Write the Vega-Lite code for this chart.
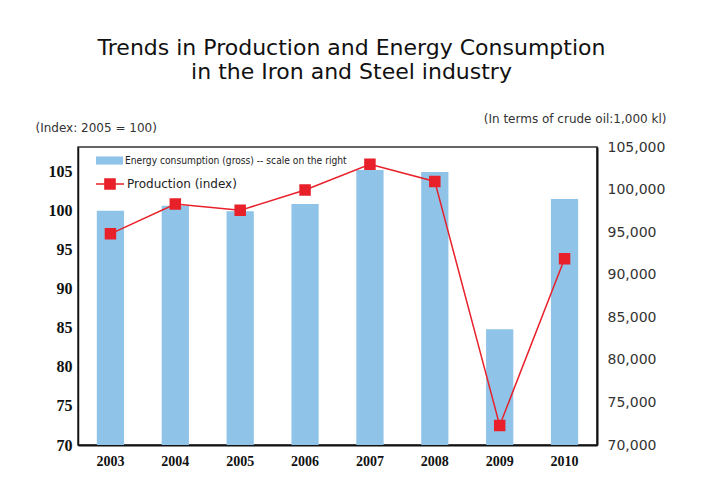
{
  "$schema": "https://vega.github.io/schema/vega-lite/v6.json",
  "autosize": "none",
  "width": 519,
  "height": 298,
  "padding": {"left": 78, "top": 147, "right": 106, "bottom": 48},
  "background": "white",
  "title": {
    "text": ["Trends in Production and Energy Consumption", "in the Iron and Steel industry"],
    "font": "DejaVu Sans",
    "fontSize": 22,
    "fontWeight": "normal",
    "color": "#111111",
    "lineHeight": 24,
    "anchor": "middle",
    "dx": 14,
    "offset": 28
  },
  "config": {
    "view": {"stroke": "#333333", "strokeWidth": 1.5},
    "axis": {"grid": false}
  },
  "data": {
    "values": [
      {"year": "2003", "energy": 97500, "production": 97.0},
      {"year": "2004", "energy": 98100, "production": 100.8},
      {"year": "2005", "energy": 97450, "production": 100.0},
      {"year": "2006", "energy": 98300, "production": 102.6},
      {"year": "2007", "energy": 102300, "production": 105.9},
      {"year": "2008", "energy": 102050, "production": 103.7},
      {"year": "2009", "energy": 83600, "production": 72.5},
      {"year": "2010", "energy": 98900, "production": 93.8}
    ]
  },
  "encoding": {
    "x": {
      "field": "year",
      "type": "ordinal",
      "scale": {"paddingInner": 0.58, "paddingOuter": 0.29},
      "axis": {
        "title": null,
        "labelAngle": 0,
        "labelFont": "Liberation Serif",
        "labelFontWeight": "bold",
        "labelFontSize": 14,
        "labelColor": "#111111",
        "ticks": false,
        "labelPadding": 9,
        "domainColor": "#111111",
        "domainWidth": 2
      }
    }
  },
  "layer": [
    {
      "mark": {"type": "bar", "color": "#8fc3e8"},
      "encoding": {
        "y": {
          "field": "energy",
          "type": "quantitative",
          "scale": {"domain": [70000, 105000], "zero": false, "nice": false},
          "axis": {
            "orient": "right",
            "title": "(In terms of crude oil:1,000 kl)",
            "titleAngle": 0,
            "titleAlign": "right",
            "titleBaseline": "middle",
            "titleX": 69,
            "titleY": -29,
            "titleFont": "DejaVu Sans",
            "titleFontSize": 12,
            "titleFontWeight": "normal",
            "titleColor": "#333333",
            "values": [70000, 75000, 80000, 85000, 90000, 95000, 100000, 105000],
            "format": ",d",
            "labelFont": "DejaVu Sans",
            "labelFontSize": 14,
            "labelColor": "#333333",
            "labelPadding": 10,
            "tickSize": 0,
            "domainColor": "#111111",
            "domainWidth": 2
          }
        },
        "y2": {"datum": 70000},
        "fill": {
          "datum": "Energy consumption (gross) -- scale on the right",
          "scale": {"range": ["#8fc3e8"]},
          "legend": {
            "title": null,
            "orient": "none",
            "legendX": 18,
            "legendY": 0,
            "padding": 0,
            "symbolType": "M-1,-0.3H1V0.3H-1Z",
            "symbolSize": 729,
            "symbolStrokeWidth": 0,
            "labelFont": "DejaVu Sans Condensed",
            "labelFontSize": 10.2,
            "labelColor": "#222222",
            "labelOffset": 2,
            "labelLimit": 0
          }
        }
      }
    },
    {
      "mark": {
        "type": "line",
        "color": "#e8202a",
        "strokeWidth": 1.5,
        "point": {"shape": "square", "size": 90, "filled": true, "fill": "#e8202a", "opacity": 1}
      },
      "encoding": {
        "y": {
          "field": "production",
          "type": "quantitative",
          "scale": {"domain": [70, 108.1], "zero": false, "nice": false},
          "axis": {
            "orient": "left",
            "title": "(Index: 2005 = 100)",
            "titleAngle": 0,
            "titleAlign": "left",
            "titleBaseline": "middle",
            "titleX": -43,
            "titleY": -20,
            "titleFont": "DejaVu Sans",
            "titleFontSize": 12,
            "titleFontWeight": "normal",
            "titleColor": "#333333",
            "values": [70, 75, 80, 85, 90, 95, 100, 105],
            "labelFont": "Liberation Serif",
            "labelFontWeight": "bold",
            "labelFontSize": 16,
            "labelColor": "#111111",
            "labelPadding": 6,
            "tickSize": 0,
            "domainColor": "#111111",
            "domainWidth": 1.5
          }
        },
        "stroke": {
          "datum": "Production (index)",
          "scale": {"range": ["#e8202a"]},
          "legend": {
            "title": null,
            "orient": "none",
            "legendX": 17,
            "legendY": 22,
            "padding": 0,
            "symbolType": "M-1,0H-0.36M0.36,0H1M-0.36,-0.36H0.36V0.36H-0.36Z",
            "symbolSize": 784,
            "symbolFillColor": "#e8202a",
            "symbolStrokeColor": "#e8202a",
            "symbolStrokeWidth": 1.5,
            "labelFont": "DejaVu Sans",
            "labelFontSize": 12,
            "labelColor": "#222222",
            "labelOffset": 2
          }
        }
      }
    }
  ],
  "resolve": {"scale": {"y": "independent", "fill": "independent", "stroke": "independent"}}
}
